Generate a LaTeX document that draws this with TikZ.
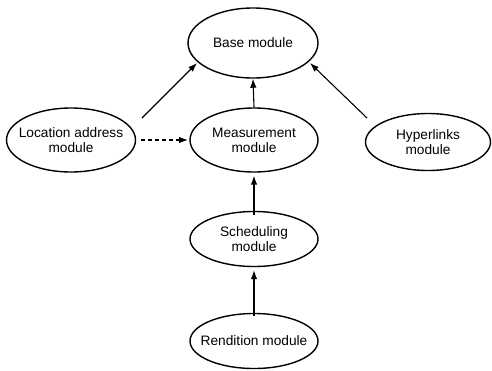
\documentclass[tikz,border=0pt]{standalone}
\usepackage{fontspec}
\setmainfont{Liberation Sans}
\usetikzlibrary{shapes.geometric,arrows.meta}
\begin{document}
\begin{tikzpicture}[x=1pt,y=-1pt,
  mod/.style={draw,ellipse,line width=1.4pt,inner sep=0pt},
  lab/.style={align=center,inner sep=0pt,font=\fontsize{13.7}{15}\selectfont},
  arr/.style={line width=1.1pt,-{Latex[length=9pt,width=6.5pt]}}]
\useasboundingbox (0,0) rectangle (492,370);
\node[mod,minimum width=130pt,minimum height=70pt] (base) at (253,43) {};
\node[mod,minimum width=129pt,minimum height=64pt] (loc) at (71,140) {};
\node[mod,minimum width=128pt,minimum height=64pt] (meas) at (254,140) {};
\node[mod,minimum width=125pt,minimum height=57pt] (hyp) at (428,142) {};
\node[mod,minimum width=128pt,minimum height=55pt] (sched) at (254,239) {};
\node[mod,minimum width=128pt,minimum height=55pt] (rend) at (254,341) {};
\node[lab] (tbase) at (base) {Base module};
\node[lab] (tloc) at (loc) {Location address\\module};
\node[lab] (tmeas) at (meas) {Measurement\\module};
\node[lab] (thyp) at (hyp) {Hyperlinks\\module};
\node[lab] (tsched) at (sched) {Scheduling\\module};
\node[lab] (trend) at (rend) {Rendition module};
\coordinate (l1) at (142,118);
\coordinate (r1) at (367,118);
\coordinate (d1) at (141,140);
\coordinate (d2) at (188,140);
\draw[arr] (l1) -- (197,63);
\draw[arr] (meas.north) -- (base.south);
\draw[arr] (r1) -- (310,63);
\draw[arr,dash pattern=on 4pt off 3pt] (d1) -- (d2);
\draw[arr] ([yshift=-4pt]sched.north) -- ([yshift=-3pt]meas.south);
\draw[arr] ([yshift=-3pt]rend.north) -- ([yshift=-3pt]sched.south);
\end{tikzpicture}
\end{document}
